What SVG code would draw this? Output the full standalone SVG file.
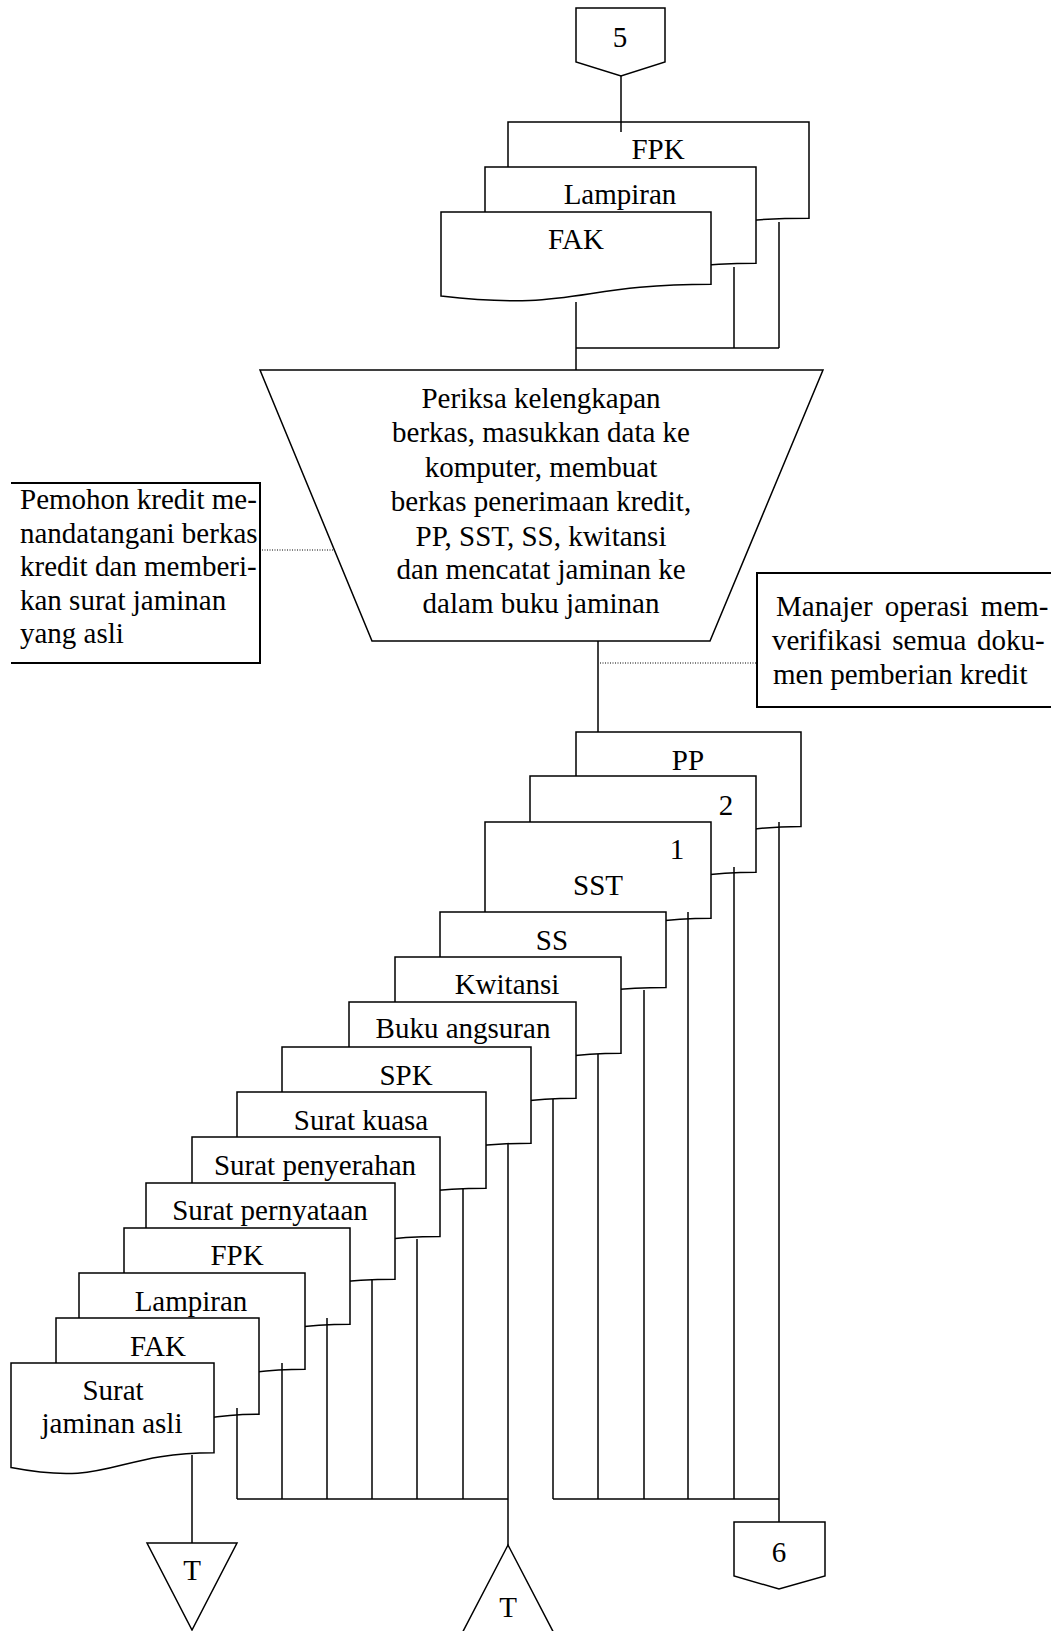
<svg xmlns="http://www.w3.org/2000/svg" width="1057" height="1631" viewBox="0 0 1057 1631">
<style>
  .s{fill:#fff;stroke:#000;stroke-width:1.5;stroke-linejoin:miter}
  .t{font-family:"Liberation Serif","Times New Roman",serif;font-size:29px;fill:#000;text-anchor:middle}
  .l{font-family:"Liberation Serif","Times New Roman",serif;font-size:29px;fill:#000;text-anchor:start}
  .c{fill:none;stroke:#000;stroke-width:1.5}
  .d{fill:none;stroke:#000;stroke-width:1;stroke-dasharray:1 1.5}
  .a{fill:none;stroke:#000;stroke-width:2}
</style>
<rect width="1057" height="1631" fill="#fff"/>

<g id="conn5">
  <path class="s" d="M576,8 L665,8 L665,62 L621,76 L576,62 Z"/>
  <text class="t" x="620" y="47">5</text>
</g>

<g id="doc-fpk-1">
  <path class="s" d="M508,122 L809,122 L809,218.2 C658.5,218.2 658.5,254.9 508,234.1 Z"/>
  <text class="t" x="658" y="159">FPK</text>
</g>
<g id="doc-lampiran-1">
  <path class="s" d="M485,167 L756,167 L756,263.2 C620.5,263.2 620.5,299.9 485,279.1 Z"/>
  <text class="t" x="620" y="204">Lampiran</text>
</g>
<g id="doc-fak-1">
  <path class="s" d="M441,212 L711,212 L711,284.2 C576,284.2 576,311.7 441,296.1 Z"/>
  <text class="t" x="576" y="249">FAK</text>
</g>

<g id="process">
  <path class="s" d="M260,370 L823,370 L710,641 L372,641 Z"/>
  <text class="t" x="541" y="408">Periksa kelengkapan</text>
  <text class="t" x="541" y="442">berkas, masukkan data ke</text>
  <text class="t" x="541" y="477">komputer, membuat</text>
  <text class="t" x="541" y="511">berkas penerimaan kredit,</text>
  <text class="t" x="541" y="546">PP, SST, SS, kwitansi</text>
  <text class="t" x="541" y="579">dan mencatat jaminan ke</text>
  <text class="t" x="541" y="613">dalam buku jaminan</text>
</g>

<g id="note-pemohon">
  <path class="a" d="M11,483 L260,483 L260,663 L11,663"/>
  <text class="l" x="20" y="509">Pemohon kredit me-</text>
  <text class="l" x="20" y="543">nandatangani berkas</text>
  <text class="l" x="20" y="576">kredit dan memberi-</text>
  <text class="l" x="20" y="610">kan surat jaminan</text>
  <text class="l" x="20" y="643">yang asli</text>
</g>

<g id="note-manajer">
  <path class="a" d="M1051,573 L757,573 L757,707 L1051,707"/>
  <text class="l" x="776" y="616" word-spacing="5">Manajer operasi mem-</text>
  <text class="l" x="772" y="650" word-spacing="3.5">verifikasi semua doku-</text>
  <text class="l" x="773" y="684">men pemberian kredit</text>
</g>

<g id="doc-pp">
  <path class="s" d="M576,732 L801,732 L801,826.6 C688.5,826.6 688.5,862.7 576,842.2 Z"/>
  <text class="t" x="688" y="770">PP</text>
</g>
<g id="doc-2">
  <path class="s" d="M530,776 L756,776 L756,872.2 C643,872.2 643,908.9 530,888.1 Z"/>
  <text class="t" x="726" y="815">2</text>
</g>
<g id="doc-1-sst">
  <path class="s" d="M485,822 L711,822 L711,918.2 C598,918.2 598,954.9 485,934.1 Z"/>
  <text class="t" x="677" y="859">1</text>
  <text class="t" x="598" y="895">SST</text>
</g>
<g id="doc-ss">
  <path class="s" d="M440,912 L666,912 L666,987.4 C553,987.4 553,1016.1 440,999.8 Z"/>
  <text class="t" x="552" y="950">SS</text>
</g>
<g id="doc-kwitansi">
  <path class="s" d="M395,957 L621,957 L621,1053.2 C508,1053.2 508,1089.9 395,1069.1 Z"/>
  <text class="t" x="507" y="994">Kwitansi</text>
</g>
<g id="doc-buku-angsuran">
  <path class="s" d="M349,1002 L576,1002 L576,1098.2 C462.5,1098.2 462.5,1134.9 349,1114.1 Z"/>
  <text class="t" x="463" y="1038">Buku angsuran</text>
</g>
<g id="doc-spk">
  <path class="s" d="M282,1047 L531,1047 L531,1143.2 C406.5,1143.2 406.5,1179.9 282,1159.1 Z"/>
  <text class="t" x="406" y="1085">SPK</text>
</g>
<g id="doc-surat-kuasa">
  <path class="s" d="M237,1092 L486,1092 L486,1188.2 C361.5,1188.2 361.5,1224.9 237,1204.1 Z"/>
  <text class="t" x="361" y="1130">Surat kuasa</text>
</g>
<g id="doc-surat-penyerahan">
  <path class="s" d="M192,1137 L440,1137 L440,1236.4 C316,1236.4 316,1274.3 192,1252.8 Z"/>
  <text class="t" x="315" y="1175">Surat penyerahan</text>
</g>
<g id="doc-surat-pernyataan">
  <path class="s" d="M146,1183 L395,1183 L395,1279.2 C270.5,1279.2 270.5,1315.9 146,1295.1 Z"/>
  <text class="t" x="270" y="1220">Surat pernyataan</text>
</g>
<g id="doc-fpk-2">
  <path class="s" d="M124,1228 L350,1228 L350,1324.2 C237,1324.2 237,1360.9 124,1340.1 Z"/>
  <text class="t" x="237" y="1265">FPK</text>
</g>
<g id="doc-lampiran-2">
  <path class="s" d="M79,1273 L305,1273 L305,1369.2 C192,1369.2 192,1405.9 79,1385.1 Z"/>
  <text class="t" x="191" y="1311">Lampiran</text>
</g>
<g id="doc-fak-2">
  <path class="s" d="M56,1318 L259,1318 L259,1414.2 C157.5,1414.2 157.5,1450.9 56,1430.1 Z"/>
  <text class="t" x="158" y="1356">FAK</text>
</g>
<g id="doc-surat-jaminan">
  <path class="s" d="M11,1363 L214,1363 L214,1452.8 C112.5,1452.8 112.5,1487 11,1467.6 Z"/>
  <text class="t" x="113" y="1400">Surat</text>
  <text class="t" x="112" y="1433">jaminan asli</text>
</g>

<g id="archive-t-left">
  <path class="s" d="M147,1543 L237,1543 L192,1630 Z"/>
  <text class="t" x="192" y="1580">T</text>
</g>
<g id="archive-t-mid">
  <path class="s" d="M508,1545 L558,1641 L458,1641 Z"/>
  <text class="t" x="508" y="1617">T</text>
</g>
<g id="conn6">
  <path class="s" d="M734,1522 L825,1522 L825,1576 L779,1589 L734,1576 Z"/>
  <text class="t" x="779" y="1562">6</text>
</g>

<g id="connectors">
  <path class="c" d="M621,76 L621,132"/>
  <path class="c" d="M576,302 L576,370"/>
  <path class="c" d="M734,267 L734,348"/>
  <path class="c" d="M779,222 L779,348"/>
  <path class="c" d="M576,348 L779,348"/>
  <path class="c" d="M598,641 L598,732"/>
  <path class="d" d="M262,550 L333,550"/>
  <path class="d" d="M600,663 L756,663"/>
  <path class="c" d="M779,822 L779,1522"/>
  <path class="c" d="M734,867 L734,1499"/>
  <path class="c" d="M688,912 L688,1499"/>
  <path class="c" d="M644,990 L644,1499"/>
  <path class="c" d="M598,1054 L598,1499"/>
  <path class="c" d="M553,1099 L553,1499"/>
  <path class="c" d="M553,1499 L779,1499"/>
  <path class="c" d="M508,1144 L508,1545"/>
  <path class="c" d="M463,1188 L463,1499"/>
  <path class="c" d="M417,1239 L417,1499"/>
  <path class="c" d="M372,1280 L372,1499"/>
  <path class="c" d="M327,1318 L327,1499"/>
  <path class="c" d="M282,1363 L282,1499"/>
  <path class="c" d="M237,1408 L237,1499"/>
  <path class="c" d="M237,1499 L508,1499"/>
  <path class="c" d="M192,1455 L192,1543"/>
</g>
</svg>
